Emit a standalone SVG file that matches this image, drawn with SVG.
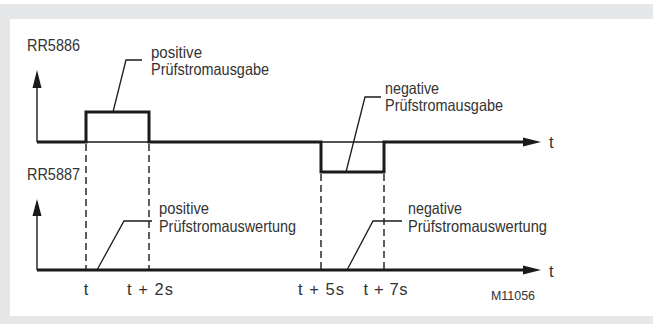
<svg xmlns="http://www.w3.org/2000/svg" width="653" height="324" viewBox="0 0 653 324">
  <style>
    .lbl { font-family: "Liberation Sans", Arial, sans-serif; font-size: 16.5px; fill: #333333; }
    .small { font-size: 13.5px; }
    .thick { fill: none; stroke: #1a1a1a; stroke-width: 3; stroke-linejoin: miter; }
    .thin { fill: none; stroke: #1a1a1a; stroke-width: 1.4; }
    .dash { fill: none; stroke: #1a1a1a; stroke-width: 1.4; stroke-dasharray: 7 4; }
    .lead { fill: none; stroke: #1a1a1a; stroke-width: 1.3; }
    .head { fill: #1a1a1a; }
  </style>
  <rect x="0" y="4" width="653" height="320" fill="#e6e7e8"/>
  <rect x="10" y="19" width="643" height="297" fill="#ffffff"/>

  <g id="signal-rr5886">
    <text class="lbl" x="27" y="50.5" textLength="53" lengthAdjust="spacingAndGlyphs">RR5886</text>
    <line class="thin" x1="37" y1="142" x2="37" y2="86"/>
    <polygon class="head" points="37,70 32.5,88 41.5,88"/>
    <line class="thin" x1="86" y1="142" x2="149" y2="142"/>
    <line class="thin" x1="321" y1="142" x2="384" y2="142"/>
    <path class="thick" d="M37,142 H86 V112 H149 V142 H321 V172 H384 V142 H526"/>
    <polygon class="head" points="541,142 523,137.5 523,146.5"/>
    <text class="lbl" x="549" y="148">t</text>
  </g>

  <g id="signal-rr5887">
    <text class="lbl" x="27" y="180" textLength="53" lengthAdjust="spacingAndGlyphs">RR5887</text>
    <line class="thin" x1="37" y1="270" x2="37" y2="214"/>
    <polygon class="head" points="37,199 32.5,216 41.5,216"/>
    <path class="thick" d="M37,270 H526"/>
    <polygon class="head" points="541,270 523,265.5 523,274.5"/>
    <text class="lbl" x="549" y="277">t</text>
  </g>

  <g id="time-markers">
    <line class="dash" x1="86" y1="144" x2="86" y2="270"/>
    <line class="dash" x1="149" y1="144" x2="149" y2="270"/>
    <line class="dash" x1="321" y1="174" x2="321" y2="270"/>
    <line class="dash" x1="384" y1="174" x2="384" y2="270"/>
    <text class="lbl" x="86" y="294.5" text-anchor="middle">t</text>
    <text class="lbl" x="150" y="294.5" text-anchor="middle" textLength="46" lengthAdjust="spacing">t + 2s</text>
    <text class="lbl" x="321" y="294.5" text-anchor="middle" textLength="46" lengthAdjust="spacing">t + 5s</text>
    <text class="lbl" x="385.5" y="294.5" text-anchor="middle" textLength="44" lengthAdjust="spacing">t + 7s</text>
    <text class="lbl small" x="491" y="300" textLength="44" lengthAdjust="spacingAndGlyphs">M11056</text>
  </g>

  <g id="label-pos-ausgabe">
    <text class="lbl" x="151" y="57.5" textLength="51" lengthAdjust="spacingAndGlyphs">positive</text>
    <text class="lbl" x="151" y="75" textLength="118" lengthAdjust="spacingAndGlyphs">Prüfstromausgabe</text>
  </g>
  <g id="label-neg-ausgabe">
    <text class="lbl" x="385" y="93.5" textLength="54" lengthAdjust="spacingAndGlyphs">negative</text>
    <text class="lbl" x="385" y="111" textLength="118" lengthAdjust="spacingAndGlyphs">Prüfstromausgabe</text>
  </g>
  <g id="label-pos-auswertung">
    <text class="lbl" x="159" y="214" textLength="50" lengthAdjust="spacingAndGlyphs">positive</text>
    <text class="lbl" x="159" y="232" textLength="137" lengthAdjust="spacingAndGlyphs">Prüfstromauswertung</text>
  </g>
  <g id="label-neg-auswertung">
    <text class="lbl" x="408" y="214" textLength="54" lengthAdjust="spacingAndGlyphs">negative</text>
    <text class="lbl" x="408" y="232" textLength="139" lengthAdjust="spacingAndGlyphs">Prüfstromauswertung</text>
  </g>

  <g id="connectors">
    <polyline class="lead" points="113,112 126,60 142,60"/>
    <polyline class="lead" points="346,172 365,97 381,97"/>
    <polyline class="lead" points="97,270 124,221 152,221"/>
    <polyline class="lead" points="347,270 373,221 402,221"/>
  </g>
</svg>
